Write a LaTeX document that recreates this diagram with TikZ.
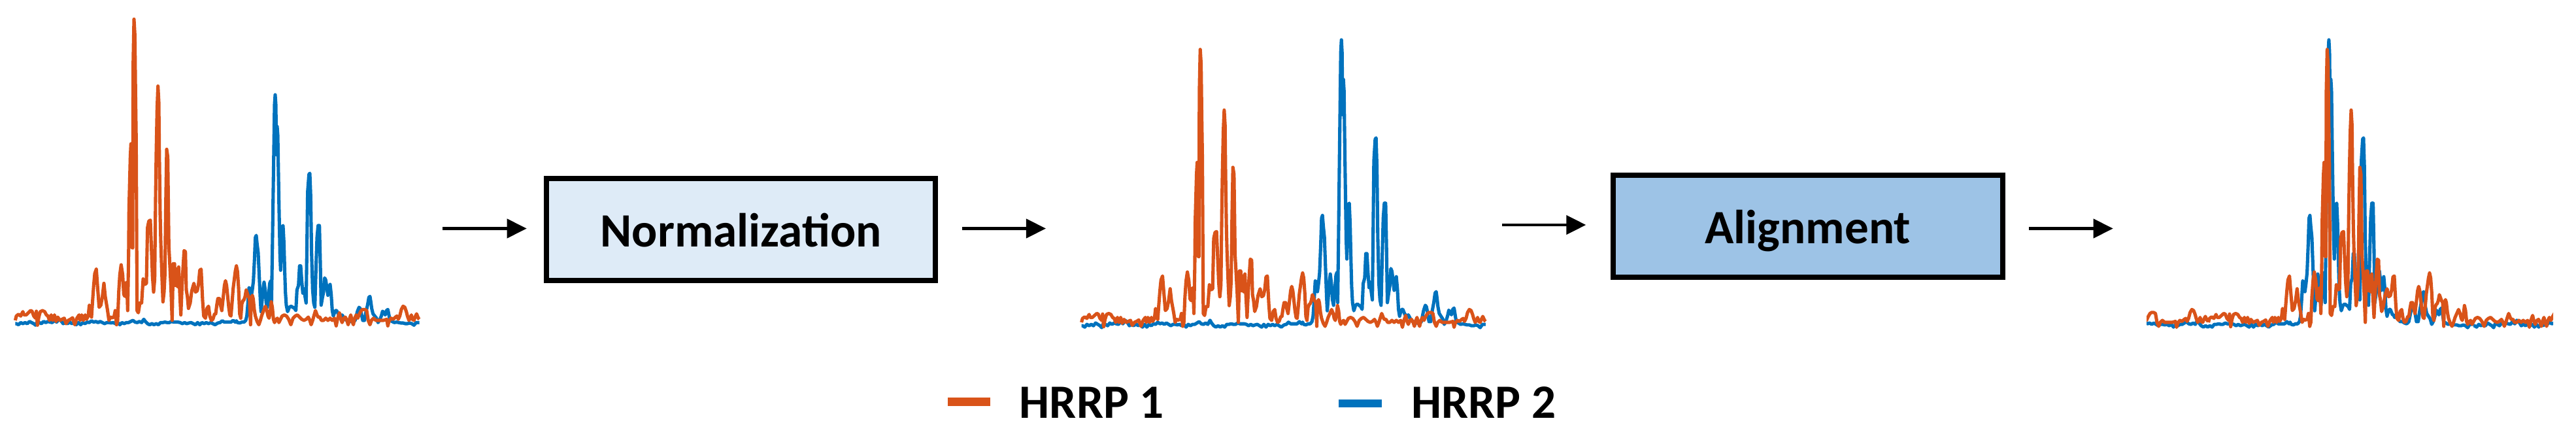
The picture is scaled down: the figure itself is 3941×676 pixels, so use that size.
\documentclass[tikz,border=0pt]{standalone}
\usepackage{fontspec}
\setmainfont{Carlito}
\usetikzlibrary{arrows.meta}
\definecolor{hrrpO}{HTML}{D95319}
\definecolor{hrrpB}{HTML}{0072BD}
\definecolor{boxA}{HTML}{DEEBF7}
\definecolor{boxB}{HTML}{9DC3E6}
\newcommand\sigOrange{\draw[sigO] plot coordinates {(25,1410) (30,1390) (40,1382) (50,1390) (60,1370) (65,1385) (75,1385) (85,1375) (95,1365) (102,1368) (110,1390) (118,1400) (122,1368) (127,1432) (133,1395) (140,1370) (150,1365) (160,1370) (168,1385) (175,1390) (182,1410) (190,1385) (197,1410) (205,1385) (212,1415) (220,1395) (230,1410) (240,1405) (250,1400) (258,1425) (268,1410) (278,1405) (288,1398) (298,1430) (308,1400) (318,1385) (323,1410) (330,1385) (338,1410) (346,1385) (352,1405) (360,1390) (365,1340) (372,1355) (375,1395) (380,1320) (385,1250) (390,1195) (397,1175) (402,1245) (410,1350) (418,1340) (425,1300) (432,1240) (438,1300) (448,1360) (455,1410) (462,1395) (470,1398) (478,1395) (484,1365) (490,1430) (495,1410) (500,1280) (505,1200) (511,1155) (518,1200) (523,1290) (528,1300) (532,1240) (537,1235) (541,1365) (545,1130) (547,900) (550,780) (553,660) (556,600) (560,1075) (564,1078) (566,240) (570,28) (574,100) (577,360) (580,580) (584,1365) (590,1375) (597,1330) (605,1330) (612,1220) (620,1245) (627,1240) (632,985) (638,955) (645,950) (650,1080) (655,1210) (660,1280) (665,1220) (669,855) (672,645) (676,440) (680,335) (684,410) (686,620) (690,920) (693,1050) (698,1200) (703,1325) (708,1280) (712,1200) (716,870) (720,625) (725,660) (730,1070) (735,1165) (740,1270) (745,1410) (750,1150) (756,1150) (760,1250) (765,1175) (770,1255) (775,1165) (780,1280) (785,1385) (790,1265) (795,1170) (800,1090) (806,1095) (810,1270) (815,1300) (820,1355) (828,1330) (835,1275) (845,1240) (852,1280) (860,1275) (866,1245) (872,1180) (878,1175) (885,1320) (890,1390) (898,1400) (905,1355) (912,1345) (918,1390) (925,1410) (932,1405) (940,1380) (945,1380) (950,1340) (955,1310) (962,1310) (967,1340) (973,1365) (980,1300) (985,1250) (990,1228) (995,1250) (1000,1300) (1005,1350) (1010,1385) (1015,1390) (1020,1330) (1025,1265) (1030,1225) (1035,1185) (1040,1160) (1045,1185) (1050,1260) (1055,1380) (1060,1400) (1065,1335) (1070,1320) (1075,1315) (1080,1300) (1085,1270) (1090,1285) (1095,1300) (1100,1310) (1105,1430) (1108,1310) (1113,1295) (1117,1310) (1122,1360) (1127,1390) (1135,1415) (1143,1430) (1150,1410) (1157,1385) (1165,1365) (1173,1345) (1180,1365) (1185,1390) (1190,1400) (1195,1375) (1200,1325) (1205,1350) (1210,1405) (1215,1420) (1223,1405) (1228,1400) (1235,1420) (1245,1400) (1250,1390) (1260,1385) (1270,1390) (1280,1405) (1290,1430) (1300,1400) (1310,1390) (1320,1385) (1330,1395) (1340,1405) (1350,1410) (1360,1405) (1370,1395) (1377,1410) (1383,1430) (1390,1410) (1397,1385) (1403,1365) (1410,1385) (1415,1395) (1423,1395) (1430,1410) (1440,1410) (1450,1400) (1460,1410) (1470,1400) (1480,1410) (1490,1400) (1498,1435) (1505,1400) (1513,1375) (1518,1400) (1525,1420) (1533,1400) (1540,1395) (1547,1410) (1553,1430) (1560,1400) (1565,1385) (1570,1410) (1577,1430) (1583,1400) (1590,1385) (1597,1400) (1605,1380) (1613,1365) (1620,1360) (1630,1360) (1638,1365) (1645,1410) (1653,1430) (1660,1410) (1670,1400) (1680,1410) (1695,1410) (1715,1410) (1730,1405) (1735,1435) (1740,1415) (1750,1400) (1760,1405) (1770,1395) (1777,1390) (1783,1405) (1790,1390) (1797,1360) (1805,1345) (1813,1350) (1820,1370) (1825,1390) (1832,1410) (1838,1400) (1843,1385) (1848,1405) (1855,1410) (1860,1395) (1867,1380) (1875,1400) (1880,1405)};}
\newcommand\sigBlue{\draw[sigB] plot coordinates {(25,1425) (30,1425) (40,1430) (50,1420) (60,1425) (70,1420) (80,1425) (90,1415) (100,1420) (110,1425) (118,1432) (125,1418) (135,1420) (145,1425) (155,1415) (165,1420) (175,1415) (185,1418) (195,1420) (205,1410) (215,1418) (225,1405) (235,1412) (245,1425) (255,1420) (265,1425) (275,1418) (285,1425) (295,1420) (305,1430) (315,1420) (325,1430) (335,1420) (345,1425) (355,1418) (365,1420) (375,1412) (385,1418) (395,1415) (405,1420) (415,1415) (425,1420) (435,1425) (445,1420) (455,1420) (465,1422) (475,1420) (485,1425) (495,1420) (505,1430) (515,1420) (525,1425) (535,1420) (545,1420) (555,1415) (565,1410) (575,1418) (585,1420) (595,1415) (605,1420) (615,1405) (622,1415) (632,1425) (642,1430) (652,1425) (662,1430) (672,1425) (682,1430) (692,1420) (702,1420) (712,1418) (722,1420) (732,1420) (742,1415) (752,1418) (762,1418) (772,1418) (782,1420) (792,1425) (802,1420) (812,1425) (822,1422) (832,1420) (842,1425) (852,1430) (862,1420) (872,1430) (882,1420) (892,1425) (902,1420) (912,1425) (922,1420) (932,1425) (942,1430) (955,1422) (965,1420) (975,1412) (985,1418) (995,1418) (1005,1418) (1015,1418) (1025,1410) (1035,1418) (1040,1412) (1045,1420) (1055,1422) (1065,1418) (1075,1418) (1083,1410) (1088,1390) (1093,1330) (1098,1260) (1103,1265) (1108,1300) (1113,1270) (1118,1230) (1123,1130) (1127,1030) (1131,1020) (1135,1060) (1140,1100) (1145,1210) (1150,1320) (1153,1370) (1157,1330) (1162,1270) (1167,1235) (1172,1270) (1177,1330) (1182,1350) (1187,1300) (1193,1240) (1197,1230) (1201,1340) (1205,1090) (1208,880) (1211,680) (1215,420) (1218,375) (1221,420) (1224,650) (1227,520) (1230,560) (1233,740) (1236,910) (1240,1110) (1243,1180) (1247,1050) (1250,980) (1254,975) (1258,1050) (1262,1190) (1265,1280) (1269,1340) (1275,1370) (1283,1350) (1291,1345) (1299,1350) (1307,1355) (1313,1365) (1318,1270) (1325,1250) (1330,1160) (1335,1160) (1340,1230) (1345,1285) (1350,1265) (1355,1300) (1360,1330) (1363,1120) (1367,820) (1370,780) (1373,740) (1377,735) (1381,840) (1385,1100) (1390,1270) (1395,1330) (1400,1350) (1405,1180) (1410,1030) (1415,975) (1421,975) (1425,1140) (1429,1340) (1435,1305) (1440,1280) (1445,1215) (1450,1225) (1455,1260) (1460,1295) (1465,1260) (1470,1245) (1475,1290) (1480,1365) (1485,1390) (1490,1375) (1495,1365) (1500,1365) (1505,1375) (1510,1385) (1515,1385) (1520,1395) (1525,1385) (1535,1400) (1545,1410) (1555,1410) (1565,1415) (1575,1418) (1585,1410) (1595,1370) (1603,1350) (1608,1355) (1613,1375) (1620,1410) (1628,1410) (1635,1370) (1642,1340) (1648,1305) (1653,1300) (1657,1325) (1661,1355) (1667,1380) (1675,1390) (1683,1400) (1690,1420) (1697,1410) (1705,1390) (1711,1368) (1717,1375) (1723,1385) (1729,1365) (1735,1360) (1740,1385) (1745,1410) (1755,1415) (1765,1420) (1775,1418) (1785,1420) (1795,1422) (1805,1422) (1815,1425) (1825,1425) (1835,1422) (1845,1425) (1855,1432) (1865,1420) (1880,1420)};}
\begin{document}
\begin{tikzpicture}[x=0.01cm,y=-0.01cm,
  sigO/.style={draw=hrrpO, line width=1.45pt, line join=round},
  sigB/.style={draw=hrrpB, line width=1.45pt, line join=round},
  procbox/.style={draw=black, line width=2.28pt, minimum width=5.955cm, minimum height=1.56cm, inner sep=0pt, text height=0.52cm, text depth=0pt, font=\fontsize{20.8pt}{25pt}\selectfont\bfseries},
  flow/.style={-{Triangle[length=0.3cm,width=0.29cm]}, line width=1.22pt},
  legtext/.style={anchor=base west, inner sep=0pt, font=\fontsize{20.8pt}{25pt}\selectfont\bfseries},
  legline/.style={line width=3.56pt}]
\useasboundingbox (0,0) rectangle (3941,676);
% process boxes
\node[procbox, fill=boxA] (norm) at (1133.5,351) {Normalization};
\node[procbox, fill=boxB] (align) at (2765.75,346) {Alignment};
% arrows
\coordinate (a1s) at (677,349.5);  \coordinate (a1e) at (805.7,349.5);
\coordinate (a2s) at (1471.5,349.5); \coordinate (a2e) at (1600,349.5);
\coordinate (a3s) at (2298,344);   \coordinate (a3e) at (2426.3,344);
\coordinate (a4s) at (3104,349.5); \coordinate (a4e) at (3232.7,349.5);
\draw[flow] (a1s) -- (a1e);
\draw[flow] (a2s) -- (a2e);
\draw[flow] (a3s) -- (a3e);
\draw[flow] (a4s) -- (a4e);
% plot 1 : raw HRRPs
\begin{scope}[shift={(15,20)}, xscale=0.33333, yscale=0.33333]
  \sigBlue
  \sigOrange
\end{scope}
% plot 2 : normalized
\begin{scope}[shift={(1646.2,-95.2)}, xscale=0.33333, yscale=0.4164]
  \sigBlue
\end{scope}
\begin{scope}[shift={(1646.2,67.2)}, xscale=0.33333, yscale=0.302]
  \sigOrange
\end{scope}
% plot 3 : aligned (circular shifts)
\begin{scope}
  \clip (3284,0) rectangle (3906,676);
  \begin{scope}[shift={(3156.9,-95.2)}, xscale=0.33333, yscale=0.4164]
    \sigBlue
  \end{scope}
  \begin{scope}[shift={(3775.6,-95.2)}, xscale=0.33333, yscale=0.4164]
    \sigBlue
  \end{scope}
  \begin{scope}[shift={(3370.3,67.2)}, xscale=0.33333, yscale=0.302]
    \sigOrange
  \end{scope}
  \begin{scope}[shift={(2751.6,67.2)}, xscale=0.33333, yscale=0.302]
    \sigOrange
  \end{scope}
\end{scope}
% legend
\coordinate (l1s) at (1450,614.5); \coordinate (l1e) at (1515,614.5);
\coordinate (l2s) at (2048,617);   \coordinate (l2e) at (2114,617);
\draw[legline, hrrpO] (l1s) -- (l1e);
\draw[legline, hrrpB] (l2s) -- (l2e);
\node[legtext] (leg1) at (1559,639.5) {HRRP 1};
\node[legtext] (leg2) at (2158.6,639.5) {HRRP 2};
\end{tikzpicture}
\end{document}
